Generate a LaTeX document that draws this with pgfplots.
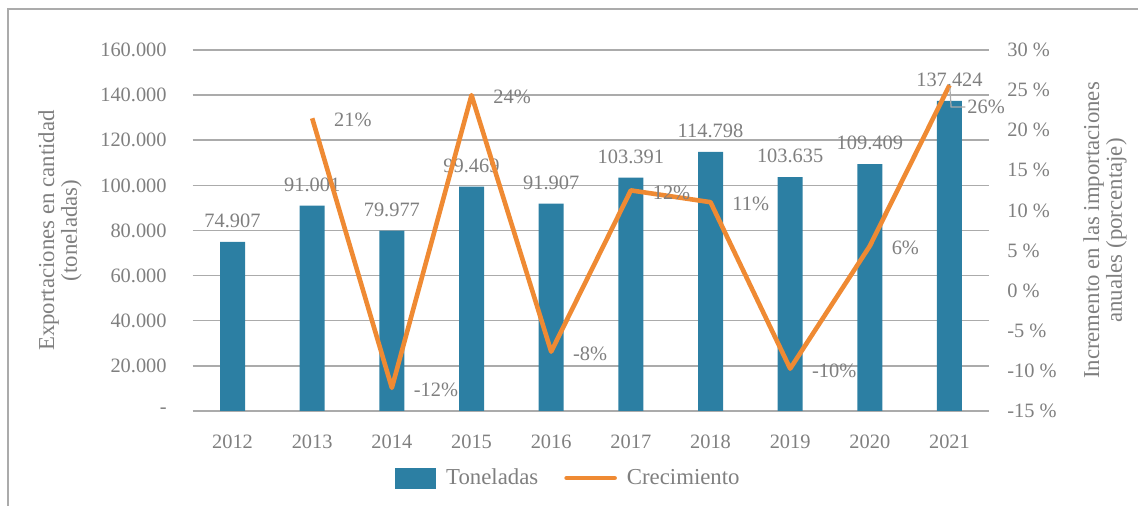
\documentclass[border=0pt]{standalone}
\usepackage{fontspec}
\setmainfont{Liberation Serif}
\usepackage{pgfplots}
\pgfplotsset{compat=1.18}
\definecolor{barblue}{HTML}{2C7FA3}
\definecolor{lineor}{HTML}{EF8A33}
\definecolor{txtgray}{HTML}{7F7F7F}
\definecolor{gridgray}{HTML}{ABABAB}

\pgfplotsset{
  base/.style={
    width=398.3pt, height=180.5pt, scale only axis,
    at={(96.35pt,-205.5pt)}, anchor=south west,
    xmin=-0.5, xmax=9.5,
    font=\fontsize{10.2}{12}\selectfont,
    tick style={draw=none},
    axis line style={draw=none},
    every tick label/.append style={text=txtgray},
    label style={text=txtgray, align=center, font=\fontsize{11.4}{11.4}\selectfont},
    scaled y ticks=false,
  },
}

\begin{document}
\begin{tikzpicture}[x=1pt,y=1pt]
\path[use as bounding box] (0,0) rectangle (569,-253);
\draw[gridgray, line width=0.6pt] (4,-253) -- (4,-4.5) -- (569,-4.5);

% toneladas (eje izquierdo)
\begin{axis}[base,
  ybar, bar width=12.5pt,
  ymin=0, ymax=160000,
  ytick={0,20000,40000,60000,80000,100000,120000,140000,160000},
  yticklabels={-,20.000,40.000,60.000,80.000,100.000,120.000,140.000,160.000},
  yticklabel style={xshift=-9.5pt},
  xtick={0,...,9},
  xticklabels={2012,2013,2014,2015,2016,2017,2018,2019,2020,2021},
  xticklabel style={yshift=-4pt},
  ymajorgrids, grid style={gridgray, line width=0.75pt},
  ylabel={Exportaciones en cantidad\\(toneladas)},
  ylabel style={at={(axis description cs:-0.1666,0.5)}, anchor=center},
  point meta=explicit symbolic,
  nodes near coords,
  every node near coord/.append style={text=txtgray, yshift=3.5pt},
]
\addplot[fill=barblue, draw=none] coordinates {
  (0,74907) [74.907]
  (1,91001) [91.001]
  (2,79977) [79.977]
  (3,99469) [99.469]
  (4,91907) [91.907]
  (5,103391) [103.391]
  (6,114798) [114.798]
  (7,103635) [103.635]
  (8,109409) [109.409]
  (9,137424) [137.424]
};
\end{axis}

% crecimiento (eje derecho)
\begin{axis}[base,
  clip=false,
  axis x line=none,
  axis y line*=right,
  ymin=-15, ymax=30,
  ytick={-15,-10,-5,0,5,10,15,20,25,30},
  yticklabels={-15 \%,-10 \%,-5 \%,0 \%,5 \%,10 \%,15 \%,20 \%,25 \%,30 \%},
  yticklabel style={xshift=5.5pt},
  ylabel={Incremento en las importaciones\\anuales (porcentaje)},
  ylabel style={at={(axis description cs:1.1452,0.5)}, anchor=center, rotate=0},
  legend style={at={(axis description cs:0.473,-0.186)}, anchor=center,
    draw=none, fill=none, legend columns=2, text=txtgray,
    font=\fontsize{11.4}{12}\selectfont,
    /tikz/every odd column/.append style={column sep=3pt},
    /tikz/every even column/.append style={column sep=11pt}},
  legend cell align=left,
]
\addlegendimage{legend image code/.code={\fill[barblue] (0pt,-5pt) rectangle (20pt,5pt);}}
\addlegendentry{Toneladas}
\addlegendimage{legend image code/.code={\draw[lineor, line width=2.3pt, line cap=round] (0pt,0pt) -- (24pt,0pt);}}
\addlegendentry{Crecimiento}
\addplot[lineor, line width=2.3pt, line join=round,
  point meta=explicit symbolic, nodes near coords,
  every node near coord/.append style={text=txtgray, anchor=west, xshift=6.5pt, yshift=-1pt}]
coordinates {
  (1,21.49) [21\%]
  (2,-12.11) [-12\%]
  (3,24.37) [24\%]
  (4,-7.60) [-8\%]
  (5,12.50) [12\%]
  (6,11.03) [11\%]
  (7,-9.72) [-10\%]
  (8,5.57) [6\%]
  (9,25.60) []
};
\draw[gridgray, line width=0.6pt] (axis cs:9.005,25.3) -- (axis cs:9.02,22.9) -- (axis cs:9.2,22.9);
\node[anchor=west, text=txtgray, inner sep=0pt] at (axis cs:9.22,22.9) {26\%};
\end{axis}
\end{tikzpicture}
\end{document}
